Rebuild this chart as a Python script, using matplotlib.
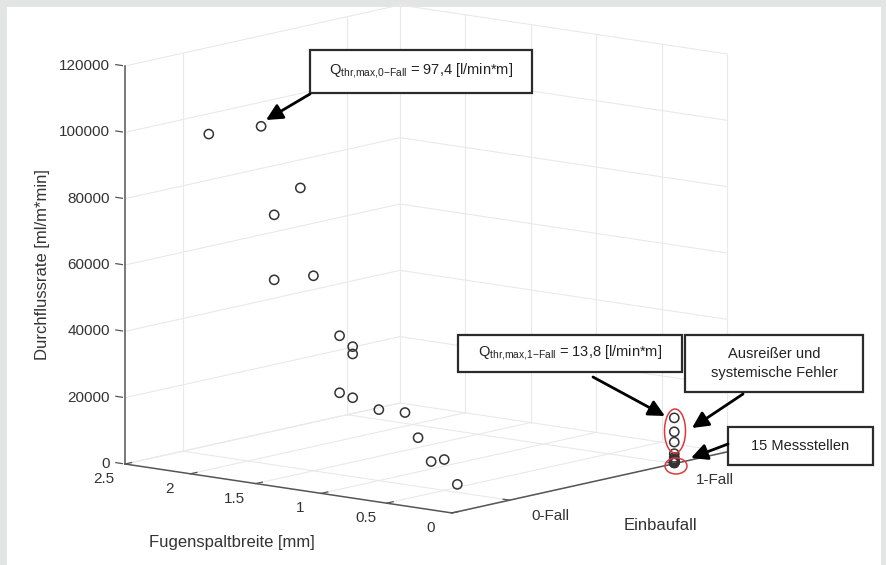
import matplotlib
matplotlib.use('Agg')
import matplotlib.pyplot as plt
from matplotlib.patches import Rectangle, Ellipse, FancyArrowPatch
from mpl_toolkits.mplot3d import proj3d

plt.rcParams['font.family'] = ['Liberation Sans', 'DejaVu Sans']

# Einbaufall 0 (0-Fall): Fugenspaltbreite [mm] und Durchflussrate [ml/m*min]
spalt_0 = [2.3, 1.9, 1.6, 1.8, 1.8, 1.5, 1.3, 1.2, 1.2, 1.3, 1.2, 1.0, 0.8, 0.7, 0.6, 0.5, 0.4]
fluss_0 = [96800, 101500, 84700, 75400, 55800, 58800, 41900, 39200, 37000,
           24700, 23800, 21400, 21700, 14700, 8100, 9300, 2400]

# Einbaufall 1 (1-Fall): 3 Ausreisser + 15 Messstellen
spalt_1 = [0] * 18
fluss_1 = [13800, 9600, 6500, 3000, 1900, 1400, 1100, 900, 800, 700, 600,
           500, 450, 400, 350, 300, 250, 200]

x_ticks = [0, 0.5, 1, 1.5, 2, 2.5]
x_labels = ['0', '0.5', '1', '1.5', '2', '2.5']
y_ticks = [0, 1]
y_labels = ['0-Fall', '1-Fall']
z_ticks = [0, 20000, 40000, 60000, 80000, 100000, 120000]
z_labels = ['0', '20000', '40000', '60000', '80000', '100000', '120000']

xmin, xmax = 0, 2.5
ymin, ymax = -0.35, 1.32
zmin, zmax = 0, 120000

W, H = 887, 565
fig = plt.figure(figsize=(W / 100, H / 100), dpi=100)
fig.patch.set_facecolor('#e3e5e4')
fig.add_artist(Rectangle((7 / W, 0), 874 / W, 558 / H, transform=fig.transFigure,
                         facecolor='white', edgecolor='none', zorder=-5))

ax = fig.add_axes([0, 0, 1, 1], projection='3d', proj_type='ortho')
ax.set_facecolor('none')
ax.set_axis_off()
ax.computed_zorder = False
ax.view_init(elev=10.5, azim=-50.6)
ax.set_box_aspect((423.2, 433.2, 404.8))
ax.set_xlim(xmax, xmin)
ax.set_ylim(ymin, ymax)
ax.set_zlim(zmin, zmax)

grid_c = '#e9e9e9'
axis_c = '#555555'
text_c = '#333333'

# grid on the three back planes
for t in x_ticks:
    ax.plot([t, t], [ymin, ymax], [0, 0], color=grid_c, lw=0.8, zorder=1)
    ax.plot([t, t], [ymax, ymax], [zmin, zmax], color=grid_c, lw=0.8, zorder=1)
for t in y_ticks:
    ax.plot([xmin, xmax], [t, t], [0, 0], color=grid_c, lw=0.8, zorder=1)
    ax.plot([xmax, xmax], [t, t], [zmin, zmax], color=grid_c, lw=0.8, zorder=1)
for t in z_ticks:
    ax.plot([xmax, xmax], [ymin, ymax], [t, t], color=grid_c, lw=0.8, zorder=1)
    ax.plot([xmin, xmax], [ymax, ymax], [t, t], color=grid_c, lw=0.8, zorder=1)

# axis lines and tick marks
ax.plot([xmax, xmax], [ymin, ymin], [zmin, zmax], color=axis_c, lw=1.1, zorder=2)
ax.plot([xmax, xmin], [ymin, ymin], [0, 0], color=axis_c, lw=1.1, zorder=2)
ax.plot([xmin, xmin], [ymin, ymax], [0, 0], color=axis_c, lw=1.1, zorder=2)
for t in z_ticks:
    ax.plot([xmax + 0.02, xmax + 0.07], [ymin, ymin], [t, t], color=axis_c, lw=0.9, zorder=2)
for t in x_ticks:
    ax.plot([t, t], [ymin, ymin + 0.04], [0, 0], color=axis_c, lw=0.9, zorder=2)
for t in y_ticks:
    ax.plot([xmin, xmin + 0.05], [t, t], [0, 0], color=axis_c, lw=0.9, zorder=2)

ax.scatter(spalt_0, [0] * len(spalt_0), fluss_0, s=44, facecolors='none',
           edgecolors='#333333', linewidths=1.1, depthshade=False, zorder=3)
ax.scatter(spalt_1, [1] * len(spalt_1), fluss_1, s=44, facecolors='none',
           edgecolors='#333333', linewidths=1.1, depthshade=False, zorder=3)

fig.canvas.draw()


def to_px(x, y, z):
    # 3d data point -> pixel from top-left corner
    xp, yp, _ = proj3d.proj_transform(x, y, z, ax.get_proj())
    px, py = ax.transData.transform((xp, yp))
    return px, H - py


# place the 3d box: corner (2.5, ymin, 0) -> pixel (125, 464), z-axis 398 px tall
p0 = to_px(xmax, ymin, zmin)
p1 = to_px(xmax, ymin, zmax)
scale = 398 / (p0[1] - p1[1])
pos = ax.get_position()
cx = (pos.x0 + pos.width / 2) * W
cy = H - (pos.y0 + pos.height / 2) * H
size = pos.width * W * scale
ncx = 125 - (p0[0] - cx) * scale
ncy = 464 - (p0[1] - cy) * scale
ax.set_position([(ncx - size / 2) / W, (H - ncy - size / 2) / H, size / W, size / H])
fig.canvas.draw()

# overlay in pixel coordinates for labels and annotations
ov = fig.add_axes([0, 0, 1, 1], zorder=5)
ov.set_xlim(0, W)
ov.set_ylim(H, 0)
ov.axis('off')

for t, s in zip(z_ticks, z_labels):
    px, py = to_px(xmax, ymin, t)
    ov.text(px - 15, py, s, ha='right', va='center', fontsize=11, color=text_c)
for t, s in zip(x_ticks, x_labels):
    px, py = to_px(t, ymin, 0)
    ov.text(px - 21, py + 15, s, ha='center', va='center', fontsize=11, color=text_c)
for t, s in zip(y_ticks, y_labels):
    px, py = to_px(xmin, t, 0)
    ov.text(px + 41, py + 16, s, ha='center', va='center', fontsize=11, color=text_c)

ov.text(43, 265, 'Durchflussrate [ml/m*min]', rotation=90, ha='center', va='center',
        fontsize=12, color=text_c)
ov.text(232, 543, 'Fugenspaltbreite [mm]', ha='center', va='center', fontsize=12, color=text_c)
ov.text(660, 526, 'Einbaufall', ha='center', va='center', fontsize=12, color=text_c)

boxes = [
    ((310, 50, 222, 43), r'Q$_{\mathregular{thr{,}max{,}0{-}Fall}}$ = 97,4 [l/min*m]'),
    ((458, 335, 224, 37), r'Q$_{\mathregular{thr{,}max{,}1{-}Fall}}$ = 13,8 [l/min*m]'),
    ((685, 335, 178, 57), 'Ausreißer und\nsystemische Fehler'),
    ((728, 427, 145, 38), '15 Messstellen'),
]
for (bx, by, bw, bh), s in boxes:
    ov.add_patch(Rectangle((bx, by), bw, bh, facecolor='white', edgecolor='#2b2b2b', lw=1.6))
    ov.text(bx + bw / 2, by + bh / 2, s, ha='center', va='center', fontsize=10.5,
            color='#222222', linespacing=1.5)

arrows = [((310, 94), (266, 120)), ((593, 377), (665, 416)),
          ((743, 394), (692, 428)), ((728, 444), (691, 458))]
for a, b in arrows:
    ov.add_patch(FancyArrowPatch(a, b, arrowstyle='-|>,head_length=0.7,head_width=0.35',
                                 mutation_scale=14, lw=2, color='black', shrinkA=0, shrinkB=0))

ov.add_patch(Ellipse((675, 431), 21, 44, fill=False, edgecolor='#e0393e', lw=1.1))
ov.add_patch(Ellipse((676, 466), 22, 16, fill=False, edgecolor='#e0393e', lw=1.1))

fig.savefig('out.png', dpi=100)
